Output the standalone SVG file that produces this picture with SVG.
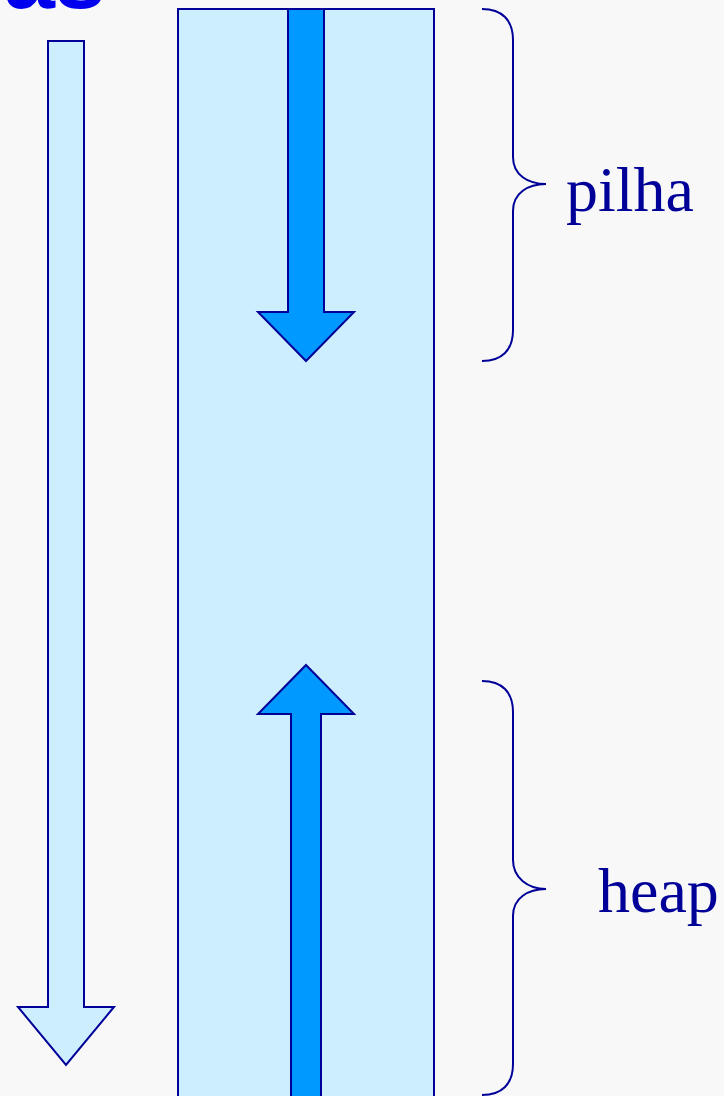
<svg xmlns="http://www.w3.org/2000/svg" width="724" height="1096" viewBox="0 0 724 1096">
<style>
.light{fill:#cceeff;stroke:#000099;stroke-width:2}
.dark{fill:#0099ff;stroke:#000099;stroke-width:2}
.brace{fill:none;stroke:#000099;stroke-width:2}
.lbl{font-family:"Liberation Serif",serif;font-size:64px;fill:#000099}
.title{font-family:"Liberation Sans",sans-serif;font-size:92px;font-weight:bold;fill:#0000ee}
</style>
<rect width="724" height="1096" fill="#f8f8f8"/>
<text class="title" x="106" y="8" text-anchor="end">as</text>
<g id="address-arrow">
<polygon class="light" points="48,41 84,41 84,1007 114,1007 66,1065 18,1007 48,1007"/>
</g>
<g id="memory">
<rect class="light" x="178" y="9" width="256" height="1100"/>
</g>
<g id="stack-arrow">
<polygon class="dark" points="288,9 324,9 324,312 354,312 306,361 258,312 288,312"/>
</g>
<g id="heap-arrow">
<polygon class="dark" points="306,665 354,714 321,714 321,1110 291,1110 291,714 258,714"/>
</g>
<g id="pilha">
<path class="brace" d="M482,9 C502,9 513,20 513,40 L513,157 C513,175 528,184 546,184 C528,184 513,193 513,211 L513,330 C513,350 502,361 482,361"/>
<text class="lbl" x="566" y="211">pilha</text>
</g>
<g id="heap">
<path class="brace" d="M482,681 C502,681 513,692 513,712 L513,860 C513,878 528,889 546,889 C528,889 513,898 513,916 L513,1064 C513,1084 502,1095 482,1095"/>
<text class="lbl" x="598" y="912">heap</text>
</g>
<g id="connectors"/>
</svg>
